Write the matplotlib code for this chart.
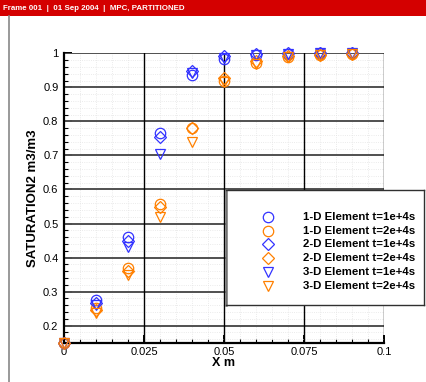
import matplotlib

matplotlib.use("Agg")
import matplotlib.pyplot as plt
from matplotlib.lines import Line2D
from matplotlib.patches import Rectangle
from matplotlib.ticker import MultipleLocator, FixedLocator

plt.rcParams["font.family"] = ["Liberation Sans", "DejaVu Sans"]

BLUE = "#3333ff"
ORANGE = "#ff8000"

x_m = [0.0, 0.01, 0.02, 0.03, 0.04, 0.05, 0.06, 0.07, 0.08, 0.09]

# saturation profiles per element type and time
sat_1d_t1 = [0.15, 0.276, 0.461, 0.765, 0.936, 0.983, 0.996, 0.999, 1.0, 1.0]
sat_1d_t2 = [0.15, 0.252, 0.370, 0.556, 0.782, 0.918, 0.972, 0.989, 0.996, 0.998]
sat_2d_t1 = [0.15, 0.268, 0.449, 0.753, 0.949, 0.992, 0.998, 1.0, 1.0, 1.0]
sat_2d_t2 = [0.15, 0.245, 0.362, 0.548, 0.780, 0.926, 0.976, 0.991, 0.996, 0.998]
sat_3d_t1 = [0.15, 0.262, 0.430, 0.705, 0.941, 0.986, 0.996, 0.999, 1.0, 1.0]
sat_3d_t2 = [0.15, 0.236, 0.349, 0.518, 0.740, 0.915, 0.968, 0.988, 0.995, 0.997]

x_ticks = [0, 0.025, 0.05, 0.075, 0.1]
x_tick_labels = ["0", "0.025", "0.05", "0.075", "0.1"]
y_ticks = [0.2, 0.3, 0.4, 0.5, 0.6, 0.7, 0.8, 0.9, 1.0]
y_tick_labels = ["0.2", "0.3", "0.4", "0.5", "0.6", "0.7", "0.8", "0.9", "1"]

series = [
    ("1-D Element t=1e+4s", sat_1d_t1, "o", BLUE, 7.5),
    ("1-D Element t=2e+4s", sat_1d_t2, "o", ORANGE, 7.5),
    ("2-D Element t=1e+4s", sat_2d_t1, "D", BLUE, 5.8),
    ("2-D Element t=2e+4s", sat_2d_t2, "D", ORANGE, 5.8),
    ("3-D Element t=1e+4s", sat_3d_t1, "v", BLUE, 7.0),
    ("3-D Element t=2e+4s", sat_3d_t2, "v", ORANGE, 7.0),
]

W, H = 427, 382
fig = plt.figure(figsize=(W / 100, H / 100), dpi=100)
fig.patch.set_facecolor("white")

# header strip and page border
fig.patches.append(Rectangle((0, (H - 16) / H), 1, 16 / H, transform=fig.transFigure,
                             facecolor="#d40000", edgecolor="none", zorder=0))
fig.text(3 / W, (H - 8) / H, "Frame 001  |  01 Sep 2004  |  MPC, PARTITIONED",
         color="white", fontsize=5.7, fontweight="bold", va="center", ha="left")
fig.lines.append(Line2D([9 / W, 9 / W], [0, (H - 16) / H], transform=fig.transFigure,
                        color="#888888", lw=1.2))

ax = fig.add_axes([64 / W, (H - 342.7) / H, 320 / W, (342.7 - 53.3) / H])
ax.set_xlim(0, 0.1)
ax.set_ylim(0.15, 1.0)

for label, vals, mk, col, ms in series:
    ax.plot(x_m, vals, linestyle="none", marker=mk, markersize=ms,
            markerfacecolor="none", markeredgecolor=col, markeredgewidth=0.9,
            clip_on=False, zorder=5)

ax.xaxis.set_major_locator(FixedLocator(x_ticks))
ax.xaxis.set_minor_locator(MultipleLocator(0.005))
ax.yaxis.set_major_locator(FixedLocator(y_ticks))
ax.yaxis.set_minor_locator(MultipleLocator(0.02))
ax.set_xticklabels(x_tick_labels)
ax.set_yticklabels(y_tick_labels)

ax.grid(which="minor", color="#e4e4e4", linestyle=":", linewidth=0.6, zorder=0)
for yv in y_ticks:
    ax.axhline(yv, color="#505050", lw=1.4, zorder=2)
for xv in x_ticks[1:]:
    ax.axvline(xv, color="black", lw=1.0, zorder=2)

for side in ["top", "right"]:
    ax.spines[side].set_visible(False)
for side in ["left", "bottom"]:
    ax.spines[side].set_linewidth(1.6)

ax.tick_params(which="major", direction="in", length=5.5, width=1.4,
               labelsize=8, pad=4)
ax.tick_params(which="minor", direction="in", length=3, width=0.8)
ax.tick_params(axis="x", which="major", pad=3)

ax.set_xlabel("X m", fontsize=9, fontweight="bold", labelpad=0)
ax.set_ylabel("SATURATION2 m3/m3", fontsize=9.5, fontweight="bold", labelpad=3)

# legend box
lx0, lx1, ly_top, ly_bot = 226, 424, 190, 305
leg = fig.add_axes([lx0 / W, (H - ly_bot) / H, (lx1 - lx0) / W, (ly_bot - ly_top) / H])
leg.set_xlim(lx0, lx1)
leg.set_ylim(ly_bot, ly_top)
leg.set_xticks([])
leg.set_yticks([])
leg.set_facecolor("white")
for s in leg.spines.values():
    s.set_color("#303030")
    s.set_linewidth(1.0)
leg.spines["left"].set_linewidth(1.8)
leg.spines["left"].set_color("#707070")

row_y = [216.7, 230.7, 244.3, 258.2, 272.0, 286.0]
for (label, vals, mk, col, ms), ry in zip(series, row_y):
    leg.plot([268], [ry], linestyle="none", marker=mk, markersize=ms,
             markerfacecolor="none", markeredgecolor=col, markeredgewidth=0.9)
    leg.text(303, ry, label, fontsize=8.2, fontweight="bold", va="center", ha="left")

fig.savefig("out.png", dpi=100)
